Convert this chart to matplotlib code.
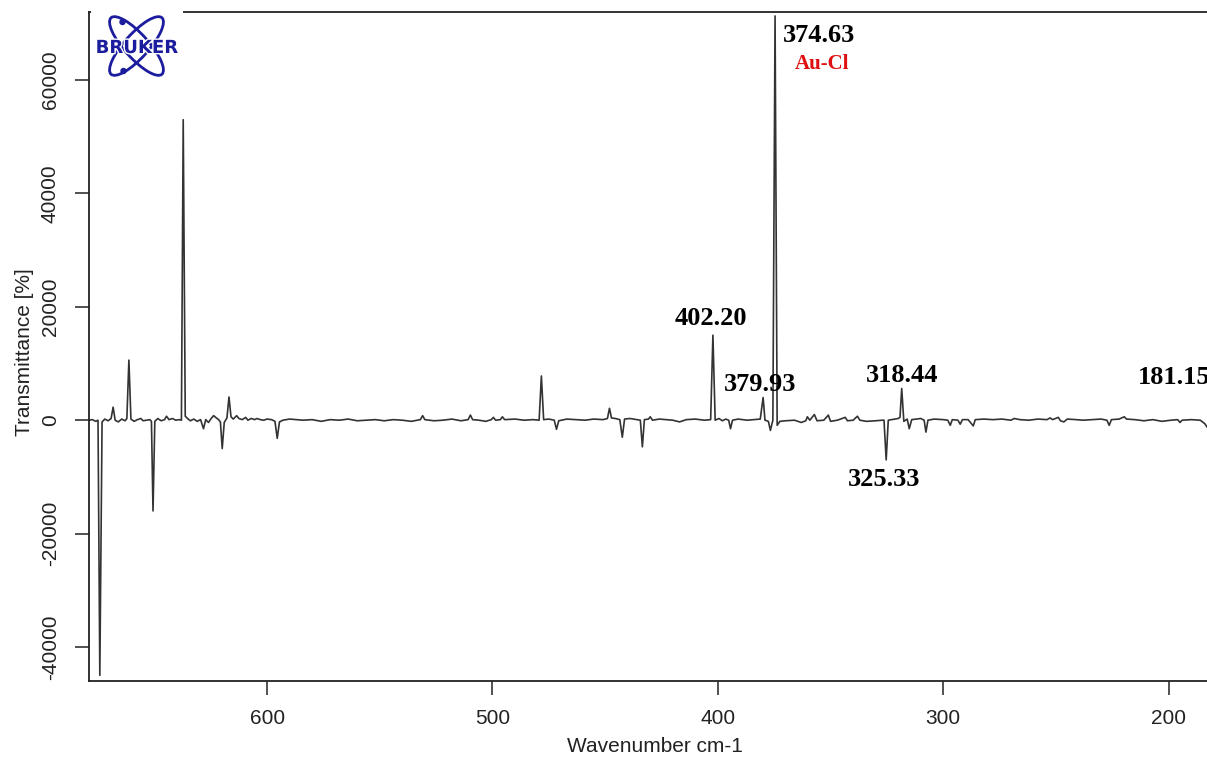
import matplotlib
matplotlib.use("Agg")
import matplotlib.pyplot as plt
from matplotlib.patches import Ellipse, Circle
import matplotlib.patheffects as pe

plt.rcParams["axes.unicode_minus"] = False

# Spectrum (wavenumber cm-1, transmittance)
wavenumber = [679, 677.5, 676, 675, 674.2, 673.2, 672, 670.5, 669.2, 668.3, 667.4, 666,
              664.5, 663, 662.2, 661.3, 660.4, 659, 657.5, 656, 655, 653.5, 652, 651.3,
              650.6, 649.8, 648.5, 647, 645.5, 644.6, 643.5, 642, 640.5, 639, 638, 637.2,
              636.3, 635, 634, 632.5, 631, 629.5, 628.2, 627.2, 626, 624.8, 623.7, 622.5,
              621.5, 620.7, 619.9, 619.0, 617.8, 616.9, 616.0, 615, 613.5, 612.5, 611,
              609.5, 608.5, 607, 605.5, 604.5, 603, 601.5, 600, 598, 596.5, 595.5, 594.5,
              593, 590, 587, 584, 580, 576, 572, 568, 564, 560, 556, 552, 548, 544, 540,
              536, 532, 531, 530, 526, 522, 518, 514, 510.8, 509.8, 508.8, 506, 503,
              500.5, 499.6, 498.6, 496.5, 495.6, 494.6, 490, 486, 482, 479.3, 478.3,
              477.3, 475, 472.6, 471.6, 470.6, 467, 463, 459, 455, 451, 449, 448.1,
              447.2, 445.5, 443.5, 442.4, 441.4, 439, 436, 434.4, 433.5, 432.6, 430.8,
              430, 429, 426, 423, 420, 417, 414, 410, 406, 403.2, 402.2, 401.2, 399.5,
              398, 396.5, 395.2, 394.4, 393.5, 391, 387, 384, 381.2, 379.93, 379.1,
              377.6, 376.7, 375.6, 374.63, 373.7, 372.5, 370, 366, 363, 361, 360.3,
              359.2, 357.2, 356, 353, 351, 350, 347, 343.5, 342.5, 340, 338.1, 337, 334,
              330, 327, 326.3, 325.33, 324.4, 323, 320, 319.2, 318.44, 317.5, 316, 315.1,
              314, 312, 310, 308.5, 307.7, 306.8, 304, 300, 298, 296.9, 296, 293.5,
              292.5, 291.5, 289, 286.7, 285.8, 282, 278, 274, 270, 268.5, 266, 262, 258,
              254, 252.6, 251.5, 249, 248, 246.5, 245, 241, 238, 234, 230, 227.4, 226.4,
              225.4, 222, 219.7, 218.7, 215, 211, 207, 203, 199, 196, 195, 194, 190, 186,
              184, 183]
transmittance = [0, 100, -200, 0, -45000, -300, 200, -100, 300, 2300, 0, -300,
                 200, -100, 300, 10600, 200, -200, 100, 300, -100, 0, 100, -200,
                 -16000, -200, 300, -100, 100, 700, 100, 300, 0, 100, 0, 53000,
                 700, 200, -100, 200, -200, 100, -1500, 100, -400, 300, 800, 400,
                 100, -300, -5000, -400, 400, 4100, 600, 200, 800, 300, 100,
                 500, 0, 300, 100, 300, 100, 0, 200, 100, -200, -3200, -300,
                 0, 200, 100, 0, 100, -200, 100, 0, 200, -100, 0, 100, -100, 100, 0,
                 -200, 100, 800, 100, -100, 0, 200, -100, 100, 900, 100, 0, -200,
                 100, 500, 0, 100, 600, 100, 200, 0, 100, 0, 7800,
                 100, 200, 0, -1600, -100, 200, 100, 0, 200, 100, 300, 2100,
                 400, 300, 100, -3000, 200, 300, 100, 0, -4700, 100, 200,
                 600, 0, 200, 100, 0, -300, 100, 200, 0, 100, 15000, 0, 300,
                 -100, 200, 0, -1500, 0, 200, 0, 100, 200, 4000, 0,
                 -200, -1800, 0, 71300, -900, -200, -100, 0, -400, -100, 600,
                 0, 1000, -100, 0, 900, -200, 0, 500, -100, 0, 700, 0, -200,
                 -100, 0, 0, -7000, 0, 100, 300, 500, 5600, -200, 200, -1500,
                 100, 200, 300, 0, -2100, 0, 200, 100, 0, -900, 100, 0,
                 -700, 100, 100, -1000, 100, 200, 100, 200, 0, 300, 100, 0, 200,
                 100, 400, 100, 500, -100, -300, 200, 100, 0, 100, 200, 0, -900,
                 100, 200, 600, 200, 100, -100, 100, -200, 0, 100, -400, 0, 100, 0,
                 -600, -1200]

# peak labels: text, x, y
peak_labels = ["374.63", "402.20", "379.93", "318.44", "325.33", "181.15"]
peak_x = [371, 403.3, 381.2, 318.2, 326.2, 213.5]
peak_y = [67900, 18000, 6350, 7900, -10400, 7600]
peak_ha = ["left", "center", "center", "center", "center", "left"]

fig = plt.figure(figsize=(12.07, 7.61), dpi=100)
ax = fig.add_axes([89 / 1207, 80 / 761, 1118 / 1207, 669 / 761])

ax.plot(wavenumber, transmittance, color="#333333", linewidth=1.2)
ax.set_xlim(679, 183)
ax.set_ylim(-46000, 72000)

ax.spines["right"].set_visible(False)
for s in ["left", "bottom", "top"]:
    ax.spines[s].set_linewidth(1.3)
    ax.spines[s].set_color("#222222")

ax.set_xticks([600, 500, 400, 300, 200])
ax.set_yticks([-40000, -20000, 0, 20000, 40000, 60000])
ax.tick_params(length=10, width=1.1, color="#222222", labelsize=15,
               labelcolor="#222222")
ax.tick_params(axis="x", pad=10)
ax.tick_params(axis="y", pad=11, labelrotation=90)
for lab in ax.get_yticklabels():
    lab.set_verticalalignment("center")
for lab in ax.get_xticklabels() + ax.get_yticklabels():
    lab.set_family("Liberation Sans")

ax.set_xlabel("Wavenumber cm-1", family="Liberation Sans", fontsize=15, color="#222222")
ax.set_ylabel("Transmittance [%]", family="Liberation Sans", fontsize=15, color="#222222")
ax.xaxis.set_label_coords(0.506, -0.084)
ax.yaxis.set_label_coords(-0.049, 0.492)

for txt, x, y, ha in zip(peak_labels, peak_x, peak_y, peak_ha):
    ax.text(x, y, txt, ha=ha, va="center", family="Liberation Serif",
            fontweight="bold", fontsize=19, color="black", clip_on=False)
ax.text(353.7, 62800, "Au-Cl", ha="center", va="center", family="Liberation Serif",
        fontweight="bold", fontsize=15, color="#e01010")

# Bruker logo in the top left corner (white box hides the top spine)
lax = fig.add_axes([90.5 / 1207, 1 - 80 / 761, 93 / 1207, 72 / 761])
lax.set_xlim(0, 93)
lax.set_ylim(72, 0)
lax.set_facecolor("white")
lax.set_xticks([])
lax.set_yticks([])
for s in lax.spines.values():
    s.set_visible(False)
blue = "#1c1c9e"
lax.add_patch(Ellipse((46, 38), 76, 24, angle=48, fill=False, edgecolor=blue, linewidth=2))
lax.add_patch(Ellipse((46, 38), 76, 24, angle=-48, fill=False, edgecolor=blue, linewidth=2))
lax.add_patch(Circle((32, 14), 2.5, color=blue))
lax.add_patch(Circle((33, 63), 2.5, color=blue))
lax.text(46, 40, "BRUKER", ha="center", va="center", fontsize=13, fontweight="bold",
         color=blue, family="DejaVu Sans",
         path_effects=[pe.withStroke(linewidth=2, foreground="white")])

fig.savefig("out.png", dpi=100)
